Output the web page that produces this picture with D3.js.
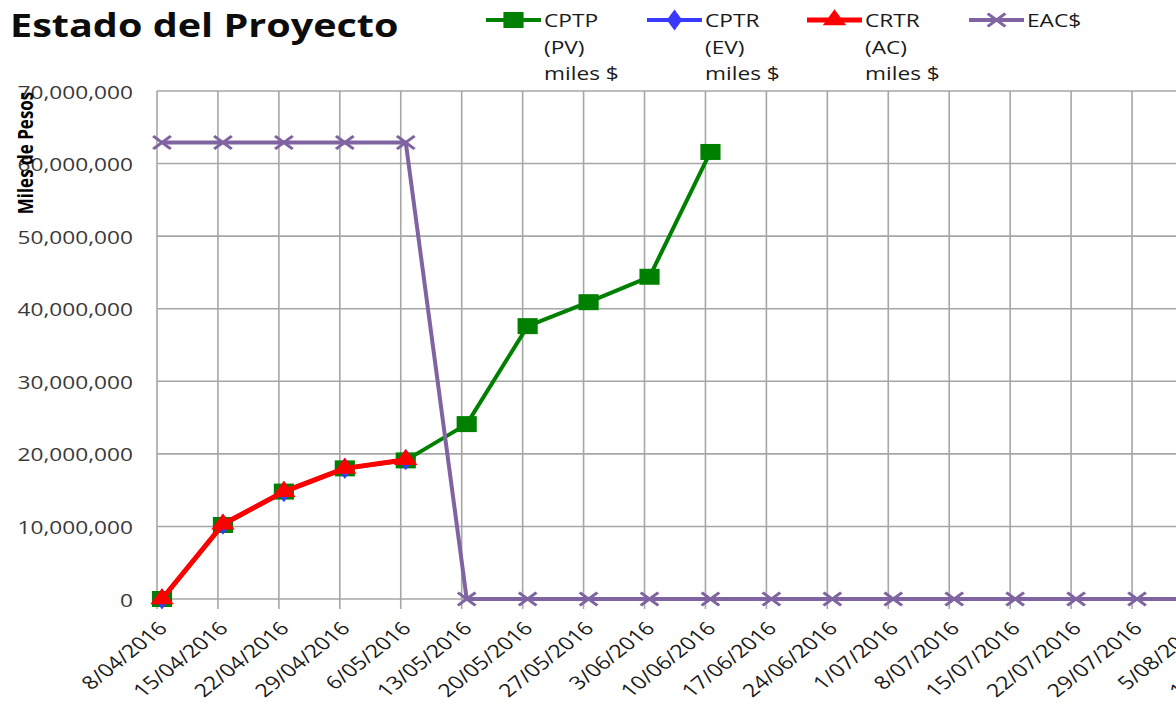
<!DOCTYPE html>
<html>
<head>
<meta charset="utf-8">
<script src="https://cdn.jsdelivr.net/npm/d3@7"></script>
<style>
  html, body { margin: 0; padding: 0; background: #fff; }
  svg { display: block; }
  text { font-family: "Open Sans", "Noto Sans", sans-serif; }
</style>
</head>
<body>
<svg id="chart" width="1176" height="703"></svg>
<script>
// ---------- data ----------
const categories = [
  "8/04/2016", "15/04/2016", "22/04/2016", "29/04/2016", "6/05/2016",
  "13/05/2016", "20/05/2016", "27/05/2016", "3/06/2016", "10/06/2016",
  "17/06/2016", "24/06/2016", "1/07/2016", "8/07/2016", "15/07/2016",
  "22/07/2016", "29/07/2016", "5/08/2016", "12/08/2016"
];
const cptp = [0, 10200000, 14800000, 18000000, 19100000, 24100000, 37600000, 40900000, 44400000, 61600000];
const cptr = [0, 10300000, 14800000, 18000000, 19200000];
const crtr = [0, 10300000, 14800000, 18000000, 19200000];
const eac  = [62900000, 62900000, 62900000, 62900000, 62900000,
              0, 0, 0, 0, 0, 0, 0, 0, 0, 0, 0, 0, 0, 0];
const yTicks = [0, 10000000, 20000000, 30000000, 40000000, 50000000, 60000000, 70000000];
const seriesNames = [["CPTP", "(PV)", "miles $"], ["CPTR", "(EV)", "miles $"], ["CRTR", "(AC)", "miles $"], ["EAC$"]];

// ---------- layout ----------
const SX = 1.26;             // horizontal text/marker stretch seen in the reference
const W = 1176, H = 703;
const plotLeft = 157, plotTop = 90, plotBottom = 599;
const step = 60.94;
const gridShift = -5;

const svg = d3.select("#chart");
svg.append("rect").attr("width", W).attr("height", H).attr("fill", "#fff");

const x = d3.scalePoint()
  .domain(categories)
  .range([plotLeft + 5, plotLeft + 5 + step * (categories.length - 1)]);
const y = d3.scaleLinear().domain([0, 70000000]).range([plotBottom, plotTop + 1]);

const gridColor = "#a6a6a6";

// horizontal gridlines
svg.append("g").selectAll("line").data(yTicks).join("line")
  .attr("x1", plotLeft).attr("x2", W)
  .attr("y1", d => y(d)).attr("y2", d => y(d))
  .attr("stroke", gridColor).attr("stroke-width", 1.6);

// vertical gridlines (extend below as tick marks)
svg.append("g").selectAll("line").data(categories).join("line")
  .attr("x1", d => x(d) + gridShift).attr("x2", d => x(d) + gridShift)
  .attr("y1", y(70000000)).attr("y2", plotBottom + 10)
  .attr("stroke", gridColor).attr("stroke-width", 1.6);

// y axis labels (via d3 axis)
const yAxis = d3.axisLeft(y).tickValues(yTicks).tickFormat(d3.format(",")).tickSize(0).tickPadding(0);
const gy = svg.append("g").attr("transform", `translate(${plotLeft - 24},0)`).call(yAxis);
gy.select(".domain").remove();
gy.selectAll(".tick text")
  .attr("x", null).attr("dy", null)
  .attr("dominant-baseline", "central")
  .attr("transform", `scale(${SX},1)`)
  .attr("font-size", 18).attr("fill", "#3a3a3a")
  .attr("font-family", "'Open Sans', sans-serif")
  .attr("text-anchor", "end");

// x axis labels (via d3 axis)
const xAxis = d3.axisBottom(x).tickSize(0).tickPadding(0);
const gx = svg.append("g").attr("transform", `translate(0,${plotBottom})`).call(xAxis);
gx.select(".domain").remove();
gx.selectAll(".tick text")
  .attr("y", null).attr("dy", null)
  .attr("transform", `translate(6,30.5) scale(${SX},1) rotate(-45)`)
  .attr("text-anchor", "end")
  .attr("font-size", 18.3).attr("fill", "#1a1a1a")
  .attr("font-family", "'Open Sans', sans-serif");

// y axis title
svg.append("text")
  .attr("transform", `translate(33,153) scale(${SX},1) rotate(-90)`)
  .attr("text-anchor", "middle")
  .attr("font-size", 17).attr("font-weight", 700).attr("fill", "#000")
  .text("Miles de Pesos");

// title
svg.append("text")
  .attr("transform", `translate(10,37) scale(${SX},1)`)
  .attr("font-size", 31.4).attr("font-weight", 700).attr("fill", "#0d0d0d")
  .text("Estado del Proyecto");

// ---------- series ----------
const colors = ["#008000", "#3a3aff", "#ff0000", "#8064a2"];
const widths = [4, 4, 5, 4];
const sqPath = d3.symbol(d3.symbolSquare, 256)();
const diaPath = d3.symbol(d3.symbolDiamond, 130)();
const triPath = d3.symbol(d3.symbolTriangle, 150)();
const xPath = "M-7,-6.5L7,6.5M-7,6.5L7,-6.5";
const markerPaths = [sqPath, diaPath, triPath, xPath];

const line = d3.line()
  .x((d, i) => x(categories[i]))
  .y(d => y(d));

const allSeries = [cptp, cptr, crtr, eac];
allSeries.forEach((vals, si) => {
  const g = svg.append("g");
  g.append("path").datum(vals)
    .attr("d", line)
    .attr("fill", "none")
    .attr("stroke", colors[si])
    .attr("stroke-width", widths[si])
    .attr("stroke-linejoin", "round");
  g.selectAll("path.m").data(vals).join("path").attr("class", "m")
    .attr("d", markerPaths[si])
    .attr("transform", (d, i) => `translate(${x(categories[i])},${y(d)}) scale(${SX},1)`)
    .attr("fill", si === 3 ? "none" : colors[si])
    .attr("stroke", si === 3 ? colors[si] : "none")
    .attr("stroke-width", si === 3 ? 2.6 : 0);
});

// ---------- legend ----------
const legendX = [486, 647, 807, 969];
seriesNames.forEach((lines, si) => {
  const lx = legendX[si];
  const g = svg.append("g");
  g.append("line")
    .attr("x1", lx).attr("x2", lx + 55).attr("y1", 20).attr("y2", 20)
    .attr("stroke", colors[si]).attr("stroke-width", widths[si]);
  g.append("path")
    .attr("d", markerPaths[si])
    .attr("transform", `translate(${lx + 27.5},20) scale(${SX},1)`)
    .attr("fill", si === 3 ? "none" : colors[si])
    .attr("stroke", si === 3 ? colors[si] : "none")
    .attr("stroke-width", si === 3 ? 2.6 : 0);
  lines.forEach((t, li) => {
    g.append("text")
      .attr("transform", `translate(${lx + 58},${27 + li * 26.6}) scale(${SX},1)`)
      .attr("font-size", 18).attr("fill", "#1a1a1a")
      .text(t);
  });
});
</script>
</body>
</html>
